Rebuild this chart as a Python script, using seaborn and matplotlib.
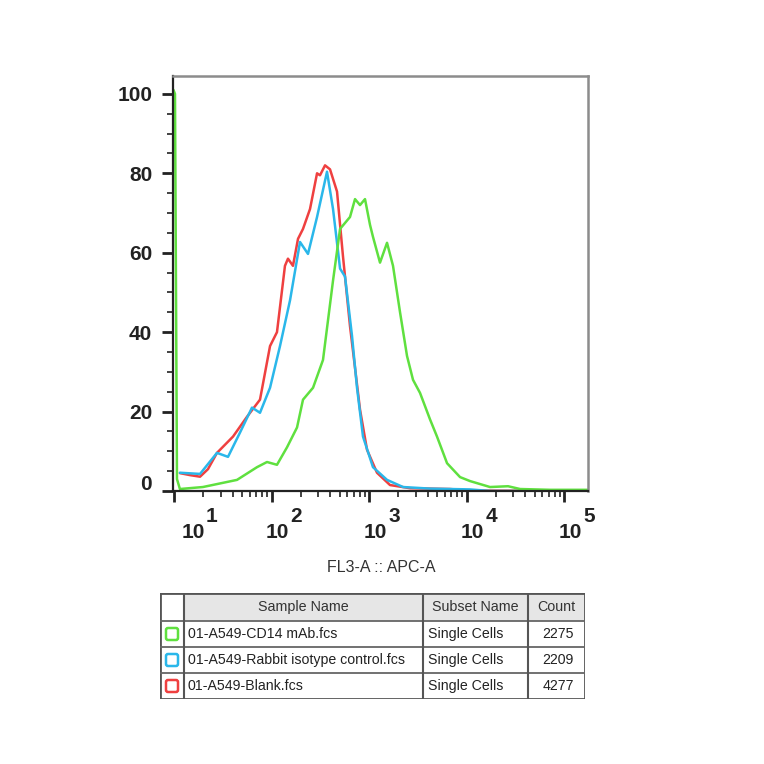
import numpy as np
import pandas as pd
import matplotlib
matplotlib.use("Agg")
import matplotlib.pyplot as plt
import matplotlib.transforms as mtransforms
from matplotlib.patches import Rectangle, FancyBboxPatch
from matplotlib.ticker import MultipleLocator, LogLocator, NullFormatter
import seaborn as sns

# histogram traces (x = FL3-A intensity, y = % of max)
green_x = [9.88, 10.24, 10.73, 11.5, 19.8, 44.3, 71.0, 89.9, 113.8, 144.2, 182.7, 210.4,
           266.6, 337.3, 427.5, 504.7, 638.3, 718.5, 808.4, 909.5, 1024, 1098, 1296,
           1530, 1762, 2080, 2453, 2825, 3334, 4227, 4980, 6310, 8577, 10860, 17410,
           26660, 35400, 71780, 176000]
green_y = [101, 100, 3, 0.5, 1, 2.8, 6, 7.3, 6.6, 11, 16, 23,
           26, 33, 53, 66, 69, 73.5, 72, 73.5, 67, 64, 57.5,
           62.5, 56.7, 45, 34, 28, 24.7, 18, 13.7, 7, 3.5, 2.5, 1,
           1.2, 0.5, 0.3, 0.3]

blue_x = [11.5, 18.5, 27.6, 35.8, 47.5, 63.1, 76.2, 96.6, 122.2, 154.8, 196.0, 236.7,
          293.1, 370.8, 427.5, 504.7, 567.4, 669.4, 753.1, 867.5, 1098, 1530, 2232,
          4227, 10860, 17410, 176000]
blue_y = [4.6, 4.3, 9.6, 8.6, 14.7, 21, 19.7, 26, 36.5, 48, 62.7, 59.7,
          69, 80.4, 71, 56, 54, 39, 26, 13.7, 6, 2.8, 1,
          0.6, 0.4, 0, 0]

red_x = [11.5, 14.6, 18.5, 22.3, 27.6, 40.3, 56.1, 76.2, 96.6, 113.8, 137.4, 147.5,
         166.0, 187.0, 210.4, 248.2, 293.1, 314.3, 353.9, 398.1, 469.8, 541.2, 638.3,
         718.5, 808.4, 953.5, 1207, 1641, 2634, 6776, 10860, 176000]
red_y = [4.5, 4.0, 3.6, 5.5, 9.6, 13.7, 18.7, 23, 36.5, 40, 56.7, 58.5,
         56.7, 63.5, 66, 71, 80, 79.5, 82, 81, 75.4, 59, 41.5,
         31, 20.5, 10.4, 4.6, 1.5, 0.7, 0.5, 0.1, 0]

sample_names = ["01-A549-CD14 mAb.fcs", "01-A549-Rabbit isotype control.fcs", "01-A549-Blank.fcs"]
subset_names = ["Single Cells", "Single Cells", "Single Cells"]
counts = [2275, 2209, 4277]
sample_colors = ["#5fe03f", "#2ab7ea", "#ef4040"]

y_ticks = [0, 20, 40, 60, 80, 100]
x_decades = [1, 2, 3, 4, 5]

sns.set_style("white")
plt.rcParams["font.family"] = ["Liberation Sans", "DejaVu Sans"]

df = pd.concat([
    pd.DataFrame({"x": red_x, "y": red_y, "sample": sample_names[2]}),
    pd.DataFrame({"x": blue_x, "y": blue_y, "sample": sample_names[1]}),
    pd.DataFrame({"x": green_x, "y": green_y, "sample": sample_names[0]}),
])

fig = plt.figure(figsize=(7.64, 7.64), dpi=100)
ax = fig.add_axes([173 / 764, 1 - 491 / 764, 415 / 764, 415 / 764])

palette = {sample_names[i]: sample_colors[i] for i in range(3)}
sns.lineplot(data=df, x="x", y="y", hue="sample", palette=palette,
             hue_order=[sample_names[2], sample_names[1], sample_names[0]],
             sort=False, estimator=None, linewidth=1.8, legend=False, ax=ax)

ax.set_xscale("log")
ax.set_xlim(9.77, 176000)
ax.set_ylim(0, 104.5)
ax.set_xlabel("")
ax.set_ylabel("")

for side in ["left", "bottom"]:
    ax.spines[side].set_color("#222222")
    ax.spines[side].set_linewidth(1.6)
for side in ["top", "right"]:
    ax.spines[side].set_color("#8c8c8c")
    ax.spines[side].set_linewidth(1.8)

ax.set_xticks([10 ** d for d in x_decades])
ax.xaxis.set_minor_locator(LogLocator(base=10, subs=np.arange(2, 10)))
ax.xaxis.set_minor_formatter(NullFormatter())
ax.tick_params(axis="x", which="major", bottom=True, length=8, width=2, color="#222222",
               direction="out", labelbottom=False)
ax.tick_params(axis="x", which="minor", bottom=True, length=4, width=1.2, color="#222222",
               direction="out")

ax.set_yticks(y_ticks)
ax.yaxis.set_minor_locator(MultipleLocator(5))
ax.tick_params(axis="y", which="major", left=True, length=8, width=2, color="#222222",
               direction="out", pad=7, labelsize=15, labelcolor="#222222")
ax.tick_params(axis="y", which="minor", left=True, length=4, width=1.2, color="#222222",
               direction="out")
for lab in ax.get_yticklabels():
    lab.set_fontweight("bold")
    if lab.get_text() == "0":
        lab.set_transform(lab.get_transform() +
                          mtransforms.ScaledTranslation(0, 8 / 100, fig.dpi_scale_trans))

# FlowJo-style decade labels: "10" with a full size exponent
xtrans = ax.get_xaxis_transform()
for d in x_decades:
    shift = 19 if d == 1 else 6
    base_off = mtransforms.ScaledTranslation(shift / 100, -41 / 100, fig.dpi_scale_trans)
    exp_off = mtransforms.ScaledTranslation((shift + 13) / 100, -26 / 100, fig.dpi_scale_trans)
    ax.text(10 ** d, 0, "10", transform=xtrans + base_off, ha="center", va="center",
            fontsize=15, fontweight="bold", color="#222222")
    ax.text(10 ** d, 0, str(d), transform=xtrans + exp_off, ha="left", va="center",
            fontsize=15, fontweight="bold", color="#222222")

fig.text(381 / 764, 1 - 568 / 764, "FL3-A :: APC-A", ha="center", va="center",
         fontsize=11.5, color="#333333")

# sample table under the plot
tab = fig.add_axes([160 / 764, 1 - 699 / 764, 425 / 764, 106 / 764])
tab.set_xlim(0, 425)
tab.set_ylim(106, 0)
tab.axis("off")
col_edges = [0, 24, 263, 368, 425]
row_edges = [0, 28, 54, 80, 106]

tab.add_patch(Rectangle((col_edges[1], 0), 425 - col_edges[1], row_edges[1],
                        facecolor="#e6e6e6", edgecolor="none"))
for y in row_edges[1:-1]:
    tab.plot([0, 425], [y, y], color="#666666", lw=1.3)
for x in col_edges[1:-1]:
    tab.plot([x, x], [0, 106], color="#555555", lw=1.5)
tab.add_patch(Rectangle((0, 0), 425, 106, facecolor="none", edgecolor="#555555", lw=2))

headers = ["Sample Name", "Subset Name", "Count"]
for i, h in enumerate(headers):
    cx = (col_edges[i + 1] + col_edges[i + 2]) / 2
    tab.text(cx, row_edges[1] / 2, h, ha="center", va="center", fontsize=10.3, color="#333333")

for r in range(3):
    cy = (row_edges[r + 1] + row_edges[r + 2]) / 2
    tab.add_patch(FancyBboxPatch((6, cy - 6), 12, 12, boxstyle="round,pad=0,rounding_size=2",
                                 facecolor="white", edgecolor=sample_colors[r], lw=1.8))
    tab.text(col_edges[1] + 4, cy, sample_names[r], ha="left", va="center",
             fontsize=10.2, color="#222222")
    tab.text(col_edges[2] + 5, cy, subset_names[r], ha="left", va="center",
             fontsize=10.2, color="#222222")
    tab.text(col_edges[4] - 11, cy, str(counts[r]), ha="right", va="center",
             fontsize=10.2, color="#222222")

fig.savefig("out.png", dpi=100)
